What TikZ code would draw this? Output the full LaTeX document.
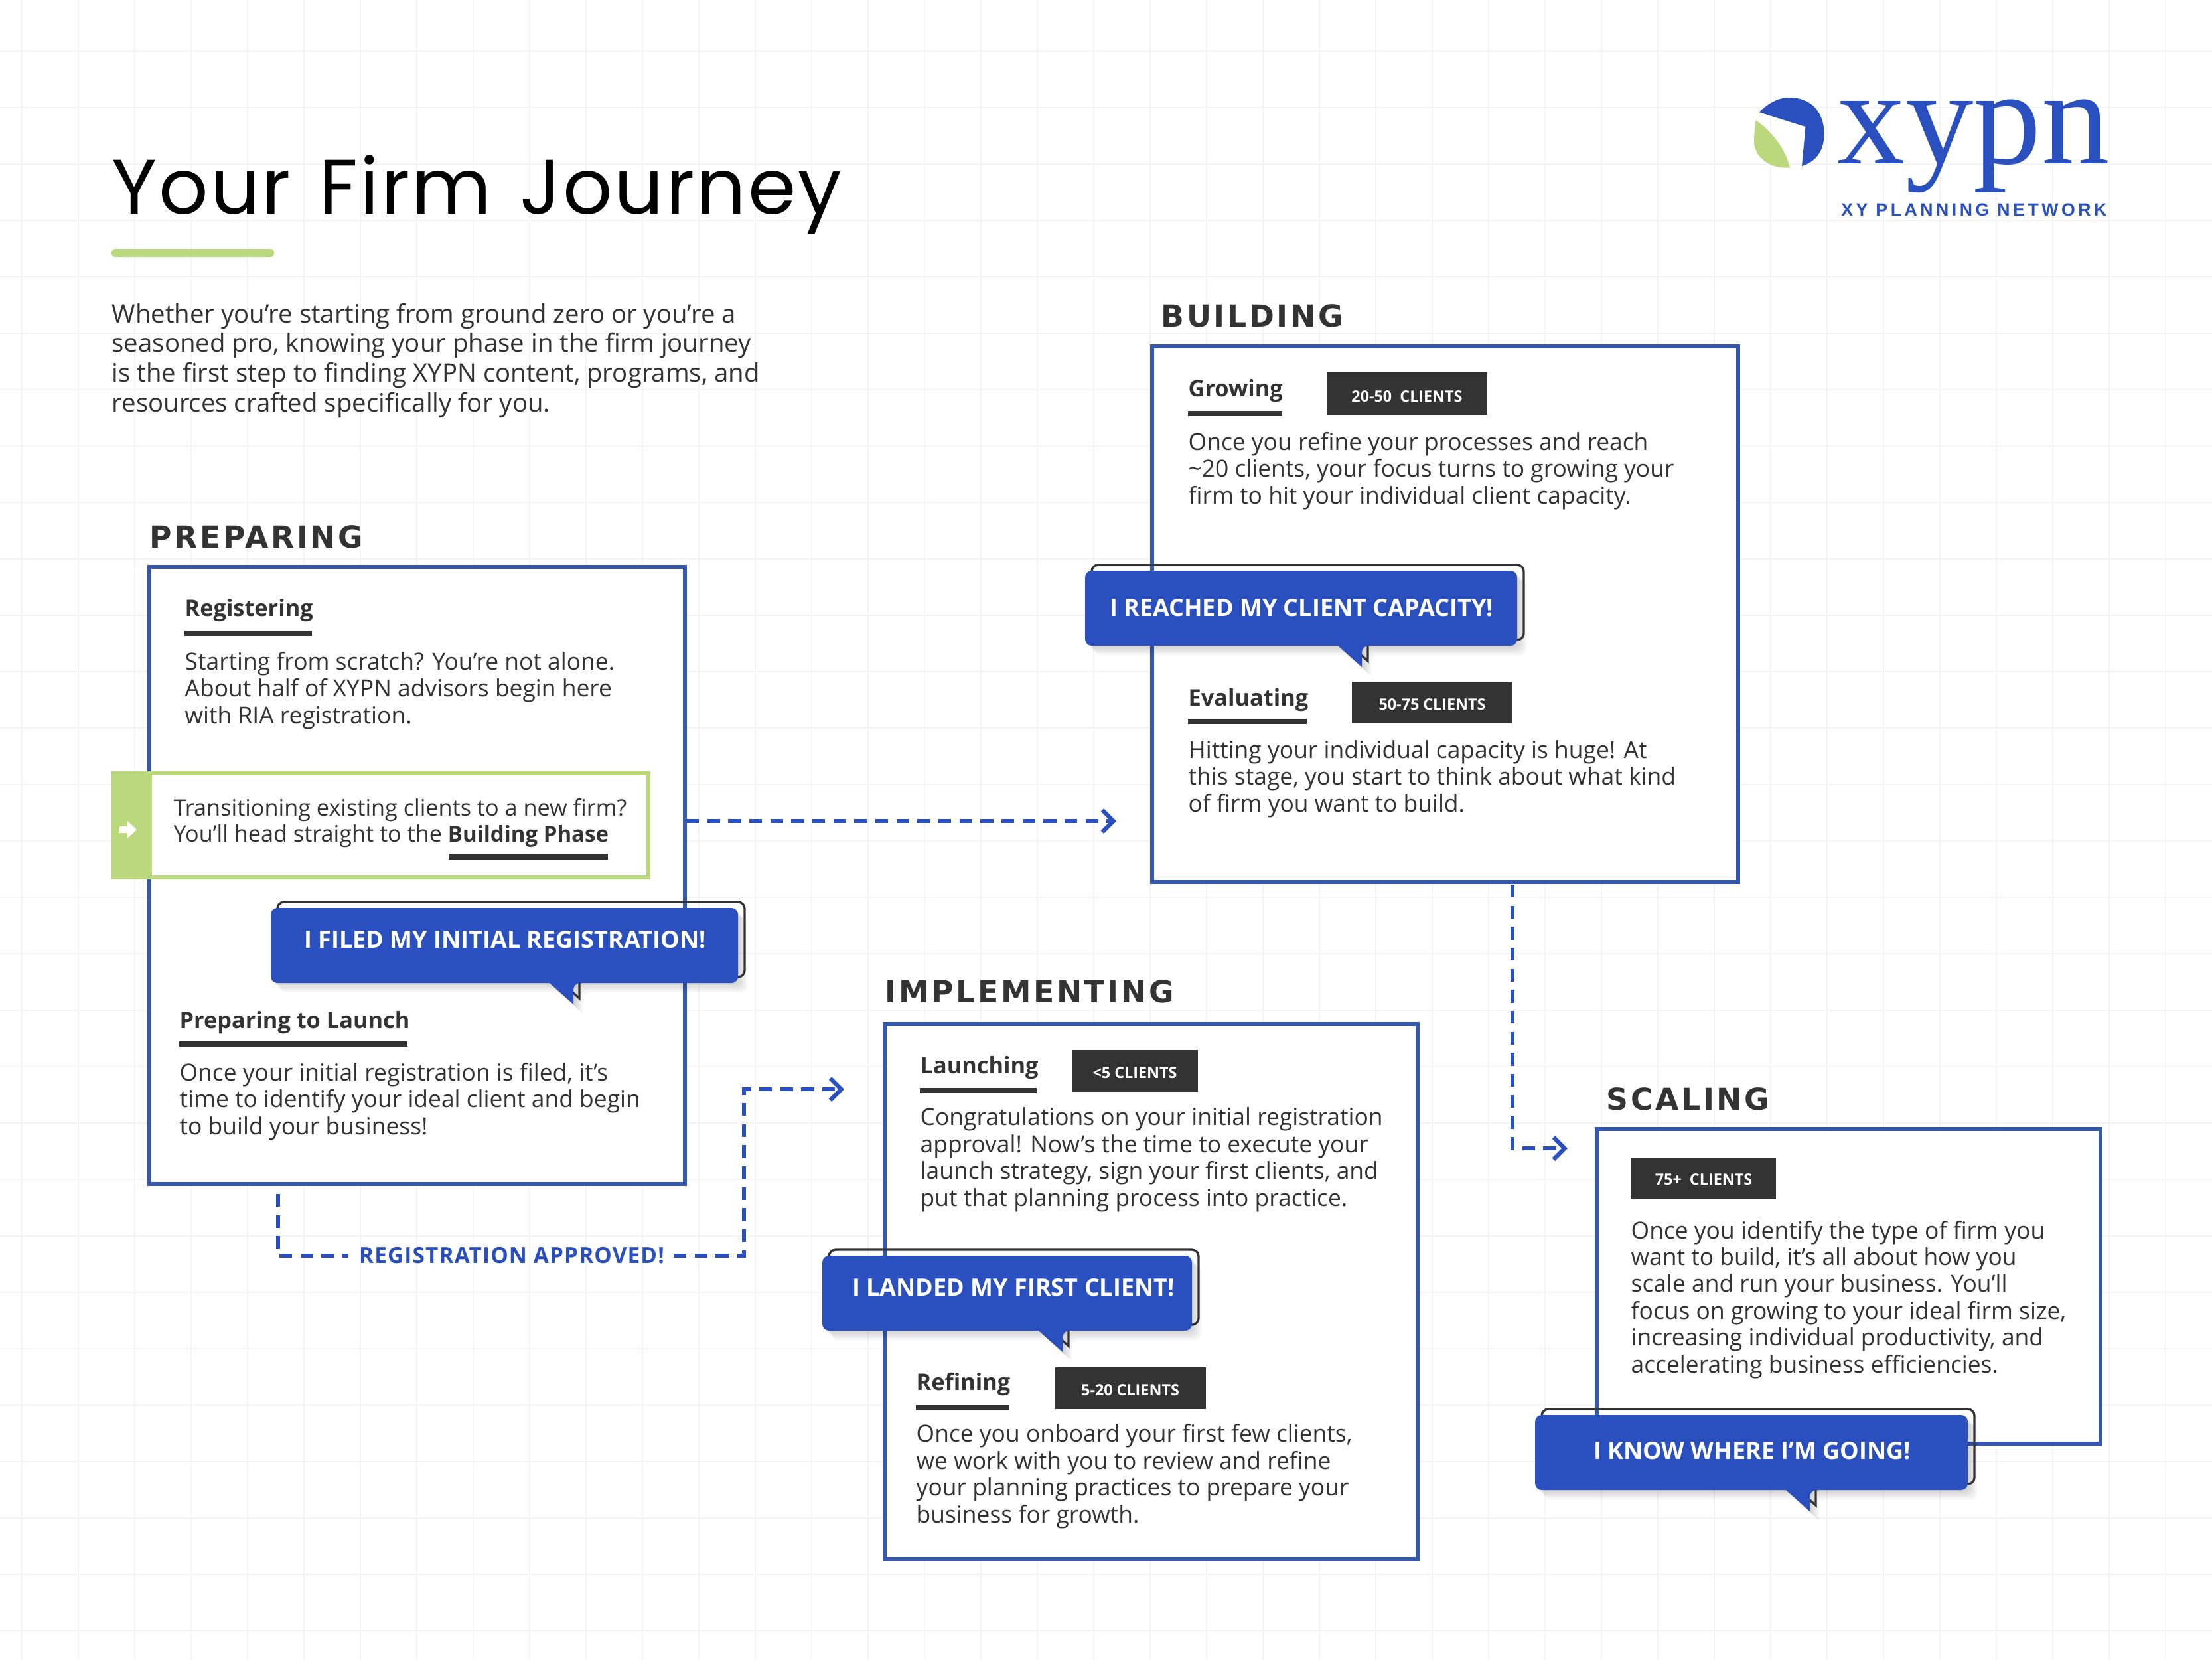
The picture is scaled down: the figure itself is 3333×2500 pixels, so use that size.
\documentclass[tikz,border=0pt]{standalone}
\usepackage{fontspec}
\setmainfont{Open Sans}
\newfontfamily\labelfont[LetterSpace=3.5]{Open Sans}
\newfontfamily\headfont[LetterSpace=8]{DejaVu Sans}
\newfontfamily\titlefont[LetterSpace=2.5,WordSpace=1.25]{Poppins}
\newfontfamily\logofont{Liberation Serif}
\newfontfamily\logosubfont[LetterSpace=17]{Liberation Sans}
\usetikzlibrary{arrows.meta}
\definecolor{xyblue}{HTML}{2A50BF}
\definecolor{boxblue}{HTML}{3558AE}
\definecolor{xygreen}{HTML}{BAD97C}
\definecolor{xydark}{HTML}{333333}
\definecolor{xygrid}{HTML}{F4F4F4}
\tikzset{
	stagebox/.style={draw=boxblue,line width=1.9pt,fill=white},
	stagehead/.style={anchor=base west,inner sep=0,text=xydark,font=\headfont\bfseries\fontsize{13.7}{16}\selectfont},
	subhead/.style={anchor=base west,inner sep=0,text=xydark,font=\bfseries\fontsize{10.3}{12}\selectfont},
	bodytext/.style={anchor=base west,inner sep=0,align=left,text=xydark,font=\fontsize{10.62}{12.12}\selectfont},
	tagtext/.style={anchor=base,inner sep=0,text=white,font=\bfseries\fontsize{7}{8}\selectfont},
	bartext/.style={anchor=base,inner sep=0,text=white,font=\bfseries\fontsize{10.8}{12}\selectfont},
	flowline/.style={draw=xyblue,line width=1.9pt,dash pattern=on 5.8pt off 3.7pt,-{Straight Barb[length=5pt,width=10pt,line width=1.9pt]}},
	flowplain/.style={draw=xyblue,line width=1.9pt,dash pattern=on 5.8pt off 3.7pt}
}
% left, top, right, bottom, tail x
\def\speechpath(#1:#2:#3:#4:#5){[rounded corners=3pt] (#1,#2) -- (#3,#2) -- (#3,#4) -- (#5,#4) [sharp corners] -- (#5,#4+32) -- (#5-36,#4) [rounded corners=3pt] -- (#1,#4) -- cycle}
\def\speech[#1](#2:#3:#4:#5:#6)(#7)#8{
	\foreach \s in {2,5,8,11,14}
		\fill[black,opacity=0.035] \speechpath(#2+\s:#3+\s:#4+\s:#5+\s:#6+\s);
	\draw[xydark,line width=1pt] \speechpath(#2+10:#3-9:#4+10:#5-9:#6+9);
	\fill[xyblue] \speechpath(#2:#3:#4:#5:#6);
	\node[bartext] (#1) at (#7) {#8};
}
\begin{document}
\begin{tikzpicture}[x=0.3pt,y=-0.3pt]
		\useasboundingbox (0,0) rectangle (3333,2500);
		%%%%% GRID %%%%%
		\fill[white] (0,0) rectangle (3333,2500);
		\foreach \k in {0,...,38}
			\draw[xygrid,line width=0.7pt] ({33+85*\k},0) -- ({33+85*\k},2500);
		\foreach \k in {0,...,28}
			\draw[xygrid,line width=0.7pt] (0,{77+85*\k}) -- (3333,{77+85*\k});

		%%%%% TITLE %%%%%
		\node[anchor=base west,inner sep=0,text=black,font=\titlefont\fontsize{35}{40}\selectfont] (title) at (168,322) {Your Firm Journey};
		\fill[xygreen,rounded corners=1.5pt] (168,375) rectangle (413,387);
		\node[bodytext,font=\fontsize{11.5}{13.4}\selectfont] (intro) at (168,620) {Whether you’re starting from ground zero or you’re a\\seasoned pro, knowing your phase in the firm journey\\is the first step to finding XYPN content, programs, and\\resources crafted specifically for you.};

		%%%%% LOGO %%%%%
		\fill[xyblue] (2650.5,169) .. controls (2665,155) and (2680,147) .. (2696,147) .. controls (2730,147) and (2748,170) .. (2748.5,200) .. controls (2749,225) and (2738,243) .. (2715,250) -- (2720.5,191) -- cycle;
		\fill[xygreen] (2645.5,181) .. controls (2672,200) and (2690,225) .. (2697,252.5) .. controls (2665,255) and (2640,235) .. (2643,207) -- cycle;
		\node[anchor=base west,inner sep=0,text=xyblue,font=\logofont\fontsize{61.5}{60}\selectfont] (logo) at (2768,246) {xypn};
		\node[anchor=base east,inner sep=0,text=xyblue,font=\logosubfont\bfseries\fontsize{8}{10}\selectfont] (network) at (3175,325) {XY PLANNING NETWORK};

		%%%%% PREPARING %%%%%
		\node[stagehead] (preparinghead) at (225,825) {PREPARING};
		\draw[stagebox] (225,854) rectangle (1032,1784);
		\coordinate (preparingsouth) at (419,1799);
		\coordinate (preparingeast) at (1034,1237);
		\node[subhead] (registering) at (278,928) {Registering};
		\fill[xydark] (278,950) rectangle (470,958);
		\node[bodytext] (registeringtext) at (278,1090) {Starting from scratch? You’re not alone.\\About half of XYPN advisors begin here\\with RIA registration.};
		\draw[xygreen,line width=1.8pt,fill=white] (171,1165) rectangle (977,1322);
		\fill[xygreen] (168,1162) rectangle (229,1325);
		\fill[white] (180,1245) -- (192,1245) -- (192,1237) -- (206,1250) -- (192,1263) -- (192,1255) -- (180,1255) -- cycle;
		\node[bodytext,font=\fontsize{10.27}{11.7}\selectfont] (transfertext) at (261,1268) {Transitioning existing clients to a new firm?\\You’ll head straight to the {\bfseries\fontsize{9.9}{11.7}\selectfont Building Phase}};
		\fill[xydark] (676,1286) rectangle (916,1295);
		\speech[filed](408:1368:1112:1481:864)(761,1428){I FILED MY INITIAL REGISTRATION!}
		\node[subhead] (launchprep) at (270,1549) {Preparing to Launch};
		\fill[xydark] (270,1569) rectangle (614,1577);
		\node[bodytext] (launchpreptext) at (270,1709) {Once your initial registration is filed, it’s\\time to identify your ideal client and begin\\to build your business!};

		%%%%% BUILDING %%%%%
		\node[stagehead] (buildinghead) at (1749,492) {BUILDING};
		\draw[stagebox] (1736,522) rectangle (2619,1329);
		\coordinate (buildingsouth) at (2279,1333);
		\coordinate (buildingin) at (1682,1237);
		\node[subhead] (growing) at (1790,597) {Growing};
		\fill[xydark] (1790,619) rectangle (1932,627);
		\fill[xydark] (2000,561) rectangle (2241,626);
		\node[tagtext] (growingtag) at (2120,605) {20-50\ \ CLIENTS};
		\node[bodytext] (growingtext) at (1790,759) {Once you refine your processes and reach\\\textasciitilde20 clients, your focus turns to growing your\\firm to hit your individual client capacity.};
		\speech[capacity](1635:860:2286:973:2052)(1961,928){I REACHED MY CLIENT CAPACITY!}
		\node[subhead] (evaluating) at (1790,1063) {Evaluating};
		\fill[xydark] (1790,1083) rectangle (1969,1091);
		\fill[xydark] (2037,1027) rectangle (2278,1090);
		\node[tagtext] (evaluatingtag) at (2158,1069) {50-75 CLIENTS};
		\node[bodytext] (evaluatingtext) at (1790,1223) {Hitting your individual capacity is huge! At\\this stage, you start to think about what kind\\of firm you want to build.};

		%%%%% IMPLEMENTING %%%%%
		\node[stagehead] (implementinghead) at (1333,1510) {IMPLEMENTING};
		\draw[stagebox] (1333,1543) rectangle (2136,2349);
		\coordinate (implementingin) at (1272,1641);
		\node[subhead] (launching) at (1386,1617) {Launching};
		\fill[xydark] (1386,1639) rectangle (1562,1647);
		\fill[xydark] (1616,1582) rectangle (1805,1645);
		\node[tagtext] (launchingtag) at (1710,1624) {<5 CLIENTS};
		\node[bodytext] (launchingtext) at (1386,1817) {Congratulations on your initial registration\\approval! Now’s the time to execute your\\launch strategy, sign your first clients, and\\put that planning process into practice.};
		\speech[landed](1239:1892:1796:2005:1601)(1527,1952){I LANDED MY FIRST CLIENT!}
		\node[subhead] (refining) at (1380,2094) {Refining};
		\fill[xydark] (1380,2117) rectangle (1520,2125);
		\fill[xydark] (1590,2060) rectangle (1817,2123);
		\node[tagtext] (refiningtag) at (1703,2102) {5-20 CLIENTS};
		\node[bodytext] (refiningtext) at (1380,2294) {Once you onboard your first few clients,\\we work with you to review and refine\\your planning practices to prepare your\\business for growth.};

		%%%%% SCALING %%%%%
		\node[stagehead] (scalinghead) at (2420,1672) {SCALING};
		\draw[stagebox] (2406,1701) rectangle (3165,2175);
		\coordinate (scalingin) at (2362,1730);
		\fill[xydark] (2457,1744) rectangle (2676,1807);
		\node[tagtext] (scalingtag) at (2567,1785) {75+\ \ CLIENTS};
		\node[bodytext] (scalingtext) at (2457,2068) {Once you identify the type of firm you\\want to build, it’s all about how you\\scale and run your business. You’ll\\focus on growing to your ideal firm size,\\increasing individual productivity, and\\accelerating business efficiencies.};
		\speech[going](2313:2132:2965:2245:2727)(2640,2198){I KNOW WHERE I’M GOING!}

		%%%%% FLOW %%%%%
		\draw[flowline] (preparingeast) -- (buildingin);
		\draw[flowline] (buildingsouth) |- (scalingin);
		\node[anchor=base,inner sep=0,text=xyblue,font=\labelfont\bfseries\fontsize{10}{12}\selectfont] (approved) at (771,1903) {REGISTRATION APPROVED!};
		\coordinate (approvedturn) at (1121,1892);
		\coordinate (approvedleft) at (525,1892);
		\coordinate (approvedright) at (1015,1892);
		\draw[flowplain] (preparingsouth) |- (approvedleft);
		\draw[flowline] (approvedright) -| (1121,1641) -- (implementingin);
	\end{tikzpicture}
\end{document}
